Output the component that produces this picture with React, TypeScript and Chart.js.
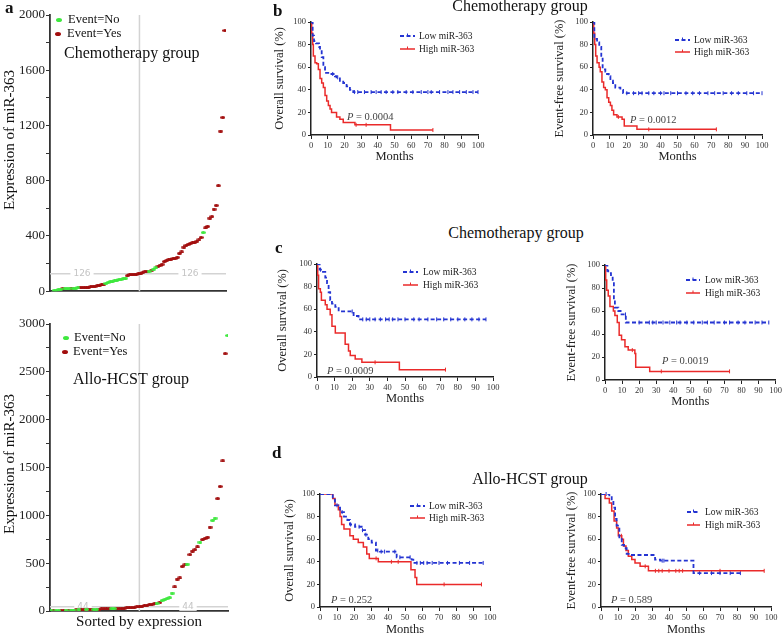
import React, { useEffect, useRef } from 'react';
import { Chart, registerables } from 'chart.js';
Chart.register(...registerables);

const SERIF = "'Liberation Serif', 'Times New Roman', serif";
const BLUE = '#2434d2';
const RED = '#ea2a2a';
const GREEN = '#3ee83e';
const DARKRED = '#a20d0d';

// ---------- panel a: expression sorted ----------
const chemoExpression = [
  5, 8, 11, 14, 16, 18, 19, 20, 21, 22,
  23, 24, 25, 26, 27, 28, 29, 31, 34, 37,
  40, 43, 46, 50, 58, 64, 68, 72, 76, 80,
  84, 88, 91, 95, 112, 118, 120, 122, 124, 125,
  126, 136, 140, 143, 146, 150, 160, 168, 180, 188,
  196, 215, 222, 228, 232, 236, 240, 246, 275, 284,
  320, 332, 340, 346, 350, 355, 362, 372, 390, 425,
  458, 470, 530, 540, 595, 622, 764, 1160, 1259, 1888,
];
const chemoEvent = [
  0, 0, 0, 0, 1, 0, 0, 0, 1, 0,
  0, 0, 1, 1, 1, 1, 1, 1, 1, 1,
  1, 1, 1, 1, 0, 0, 0, 0, 0, 0,
  0, 0, 0, 0, 1, 1, 1, 1, 1, 1,
  1, 1, 1, 1, 0, 1, 0, 0, 1, 1,
  1, 1, 1, 1, 1, 1, 1, 1, 1, 1,
  1, 1, 1, 1, 1, 1, 1, 1, 1, 0,
  1, 1, 1, 1, 1, 1, 1, 1, 1, 1,
];
const chemoCutoff = 126;
const chemoYTicks = [0, 400, 800, 1200, 1600, 2000];

const alloExpression = [
  1, 2, 2, 4, 5, 5, 7, 8, 9, 10,
  11, 12, 14, 15, 16, 16, 17, 18, 19, 19,
  21, 22, 23, 24, 24, 26, 27, 28, 29, 31,
  32, 34, 36, 39, 42, 44, 52, 57, 62, 67,
  72, 77, 82, 88, 111, 120, 130, 139, 188, 251,
  334, 345, 467, 482, 490, 589, 627, 641, 669, 721,
  746, 760, 772, 878, 948, 972, 1174, 1303, 1568, 2690,
  2880,
];
const alloEvent = [
  0, 1, 0, 0, 1, 1, 0, 1, 0, 0,
  1, 0, 1, 1, 0, 1, 1, 0, 0, 1,
  1, 1, 1, 1, 0, 0, 1, 1, 1, 1,
  1, 1, 1, 1, 1, 1, 1, 1, 1, 1,
  1, 1, 0, 1, 0, 0, 0, 0, 0, 1,
  1, 1, 1, 1, 0, 1, 1, 1, 1, 0,
  1, 1, 1, 1, 0, 0, 1, 1, 1, 1,
  0,
];
const alloCutoff = 44;
const alloYTicks = [0, 500, 1000, 1500, 2000, 2500, 3000];

// ---------- KM curves ----------
const bOsLowMonths = [0, 1, 1.8, 3, 4.8, 5.4, 6.4, 7.4, 8.4, 11, 14.3, 15.3, 17.3, 19.3, 21.3, 23.3, 25.3, 100];
const bOsLowSurv = [100, 88, 83, 81, 78, 75, 69, 60, 55, 54, 52, 51, 48, 46, 43, 40, 38, 38];
const bOsLowCensored = [13, 16, 26, 28, 32, 36, 39, 42, 45, 49, 52, 57, 61, 66, 70, 72, 77, 82, 85, 89, 93, 97, 100];
const bOsHighMonths = [0, 0.4, 1, 1.4, 2.4, 3.4, 4.4, 5.4, 6.4, 7.4, 8.4, 9.4, 10.4, 11.4, 12.3, 15.3, 17.3, 19.3, 26.3, 47.6, 73];
const bOsHighSurv = [100, 90, 80, 70, 64, 63, 58, 50, 46, 42, 35, 30, 26, 23, 20, 16, 14, 11, 9, 4.4, 4.4];
const bOsHighCensored = [27, 33, 73];

const bEfsLowMonths = [0, 0.8, 2.4, 3.7, 4.9, 5.7, 7.3, 8.3, 9.3, 10.3, 11.8, 13.2, 16.2, 17.8, 100];
const bEfsLowSurv = [100, 85, 82, 78, 70, 58, 56, 54, 52, 48, 46, 42, 40, 37, 37];
const bEfsLowCensored = [20, 24, 27, 29, 33, 36, 40, 42, 46, 50, 55, 59, 63, 68, 72, 77, 82, 86, 91, 95, 100];
const bEfsHighMonths = [0, 0.4, 1, 1.6, 2.4, 3.6, 4.3, 5.3, 6.3, 7.3, 8.3, 9.3, 10.3, 11.2, 12.2, 14.2, 17.2, 18.5, 26, 73];
const bEfsHighSurv = [100, 90, 80, 70, 64, 60, 56, 47, 42, 40, 33, 29, 26, 22, 18, 16, 14, 8, 5, 5];
const bEfsHighCensored = [15, 33, 73];

const cOsLowMonths = [0, 1.5, 2.8, 4.7, 5.7, 6.6, 7.5, 8.5, 10.4, 12.3, 20.8, 23.6, 24.5, 96];
const cOsLowSurv = [100, 95, 93, 88, 83, 75, 68, 65, 62, 58, 54, 52, 51, 51];
const cOsLowCensored = [2, 20, 26, 28, 30, 33, 36, 39, 41, 43, 46, 50, 55, 58, 63, 68, 72, 76, 80, 84, 88, 92, 96];
const cOsHighMonths = [0, 0.4, 0.9, 1.9, 2.5, 4.7, 5.7, 7.5, 8.5, 10.4, 16, 17.9, 18.9, 21.7, 25.5, 46.8, 73];
const cOsHighSurv = [100, 90, 78, 75, 68, 64, 60, 55, 45, 39, 29, 23, 19, 16, 13, 6.5, 6.5];
const cOsHighCensored = [33, 73];

const cEfsLowMonths = [0, 1.4, 1.9, 3.5, 4.5, 5.2, 5.8, 7.8, 9.7, 12.2, 96];
const cEfsLowSurv = [100, 95, 93, 90, 86, 70, 63, 60, 57, 50, 50];
const cEfsLowCensored = [12, 20, 26, 28, 30, 34, 38, 42, 44, 48, 52, 57, 60, 64, 70, 73, 78, 82, 88, 92, 96];
const cEfsHighMonths = [0, 0.4, 1, 1.9, 2.9, 4.9, 5.8, 7.2, 8.3, 9.7, 11.7, 13.6, 17.5, 18, 26.2, 73];
const cEfsHighSurv = [100, 87, 78, 73, 64, 60, 56, 50, 39, 35, 29, 26, 23, 11, 7.5, 7.5];
const cEfsHighCensored = [16, 33, 73];

const dOsLowMonths = [0, 7.5, 8.8, 10.8, 11.8, 14.1, 16.1, 17.6, 20.6, 24.5, 26.5, 28.4, 30.4, 32.9, 35.3, 45.1, 53.9, 54.9, 96];
const dOsLowSurv = [100, 95, 90, 88, 84, 80, 77, 73, 71, 68, 64, 60, 57, 50, 49, 44, 42, 39, 39];
const dOsLowCensored = [10, 13, 18, 23, 25, 27, 34, 36, 38, 44, 47, 53, 57, 59, 61, 63, 66, 70, 75, 82, 88, 96];
const dOsHighMonths = [0, 7.5, 8.8, 10.8, 11.8, 12.7, 14.1, 17.6, 19.6, 22.5, 25.5, 27.5, 29, 34.3, 53.5, 55.9, 56.9, 95];
const dOsHighSurv = [100, 96, 90, 86, 80, 73, 69, 63, 60, 57, 53, 47, 43, 40, 33, 26, 20, 20];
const dOsHighCensored = [33, 42, 46, 73, 95];

const dEfsLowMonths = [0, 4.9, 6.3, 7.3, 8.3, 9.2, 10.8, 12.2, 13.6, 15.1, 17.1, 31.8, 34.8, 54.4, 82];
const dEfsLowSurv = [100, 98, 94, 88, 78, 72, 60, 55, 52, 47, 46, 42, 41, 30, 30];
const dEfsLowCensored = [3, 16, 36, 37, 58, 65, 70, 76, 82];
const dEfsHighMonths = [0, 2.4, 4.9, 6.3, 7.7, 9.2, 10.2, 12.2, 13.2, 14.7, 16.1, 18.1, 20, 23, 27.9, 96];
const dEfsHighSurv = [100, 96, 92, 85, 76, 70, 63, 60, 54, 50, 45, 42, 39, 36, 32, 32];
const dEfsHighCensored = [12, 26, 32, 34, 36, 40, 44, 46, 48, 70, 96];

const pValues = ['0.0004', '0.0012', '0.0009', '0.0019', '0.252', '0.589'];
const legendLabels = ['Low miR-363', 'High miR-363'];

Chart.defaults.font.family = SERIF;

type Curve = { t: number[]; s: number[]; c: number[] };
const curve = (t: number[], s: number[], c: number[]): Curve => ({ t, s, c });

function survAt(cv: Curve, x: number) {
  let v = cv.s[0];
  for (let i = 0; i < cv.t.length; i++) if (cv.t[i] <= x) v = cv.s[i];
  return v;
}

type KMSpec = {
  L: number; T: number; R: number; B: number;
  yTitle: string; yPad: number; mPad: number;
  low: Curve; high: Curve;
  leg: { x1: number; x2: number; tx: number; y1: number; y2: number };
  p: { x: number; y: number; text: string };
};

function KMChart({ spec }: { spec: KMSpec }) {
  const ref = useRef<HTMLCanvasElement>(null);
  const padR = Math.min(12, 784 - spec.R);
  const left = spec.L - 50;
  const top = spec.T - 10;
  const width = spec.R - spec.L + 50 + padR;
  const height = spec.B - spec.T + 10 + 34;
  useEffect(() => {
    const el = ref.current!;
    const line = (cv: Curve) => cv.t.map((t, i) => ({ x: t, y: cv.s[i] }));
    const cens = (cv: Curve) => cv.c.map((x) => ({ x, y: survAt(cv, x) }));
    const annot = {
      id: 'kmAnnot',
      afterDraw(chart: any) {
        const c = chart.ctx as CanvasRenderingContext2D;
        const { leg, p } = spec;
        c.save();
        const row = (y: number, color: string, dashed: boolean) => {
          c.strokeStyle = color;
          c.lineWidth = dashed ? 1.8 : 1.5;
          c.setLineDash(dashed ? [4, 2.5] : []);
          c.beginPath();
          c.moveTo(leg.x1 - left, y - top);
          c.lineTo(leg.x2 - left, y - top);
          c.stroke();
          c.setLineDash([]);
          c.lineWidth = 1;
          const mx = (leg.x1 + leg.x2) / 2 - left;
          c.beginPath();
          c.moveTo(mx, y - top - 2.5);
          c.lineTo(mx, y - top);
          c.stroke();
        };
        row(leg.y1, BLUE, true);
        row(leg.y2, RED, false);
        c.fillStyle = '#222';
        c.font = `9.5px ${SERIF}`;
        c.textAlign = 'left';
        c.textBaseline = 'middle';
        c.fillText(legendLabels[0], leg.tx - left, leg.y1 - top);
        c.fillText(legendLabels[1], leg.tx - left, leg.y2 - top);
        c.fillStyle = '#444';
        c.font = `italic 10.5px ${SERIF}`;
        c.fillText('P', p.x - left, p.y - top);
        const w = c.measureText('P').width;
        c.font = `10.5px ${SERIF}`;
        c.fillText(' = ' + p.text, p.x - left + w, p.y - top);
        c.restore();
      },
    };
    const tickFont = { size: 8.5, family: SERIF };
    const chart = new Chart(el, {
      type: 'line',
      data: {
        datasets: [
          { data: line(spec.low), borderColor: BLUE, borderWidth: 1.8, borderDash: [4, 2.5], stepped: 'before', pointRadius: 0, fill: false } as any,
          { data: line(spec.high), borderColor: RED, borderWidth: 1.5, stepped: 'before', pointRadius: 0, fill: false } as any,
          { type: 'scatter', data: cens(spec.low), showLine: false, pointStyle: 'line', rotation: 90, pointRadius: 2, borderColor: BLUE, borderWidth: 1, clip: false } as any,
          { type: 'scatter', data: cens(spec.high), showLine: false, pointStyle: 'line', rotation: 90, pointRadius: 2, borderColor: RED, borderWidth: 1, clip: false } as any,
        ],
      },
      options: {
        animation: false,
        responsive: false,
        maintainAspectRatio: false,
        events: [],
        layout: { padding: { left: 0, top: 10, right: padR, bottom: 0 } },
        plugins: { legend: { display: false }, tooltip: { enabled: false } },
        scales: {
          x: {
            type: 'linear', min: 0, max: 100,
            ticks: { stepSize: 10, font: tickFont, color: '#333', padding: 2, maxRotation: 0, autoSkip: false },
            grid: { drawOnChartArea: false, tickLength: 4, color: '#222', lineWidth: 1 },
            border: { color: '#222', width: 1.5 },
            title: { display: true, text: 'Months', font: { size: 12.5, family: SERIF }, color: '#222', padding: { top: 0, bottom: spec.mPad } },
            afterFit: (s: any) => { s.height = 34; },
          },
          y: {
            type: 'linear', min: 0, max: 100,
            ticks: { stepSize: 20, font: tickFont, color: '#333', padding: 2 },
            grid: { drawOnChartArea: false, tickLength: 3, color: '#222', lineWidth: 1 },
            border: { color: '#222', width: 1.5 },
            title: { display: true, text: spec.yTitle, font: { size: 12.5, family: SERIF }, color: '#222', padding: { top: spec.yPad, bottom: 0 } },
            afterFit: (s: any) => { s.width = 50; },
          },
        },
      } as any,
      plugins: [annot],
    });
    return () => chart.destroy();
  }, []);
  return <canvas ref={ref} width={width} height={height} style={{ position: 'absolute', left, top, width, height }} />;
}

type ScSpec = {
  left: number; top: number; width: number; height: number;
  pad: { left: number; top: number; right: number; bottom: number };
  xHeight: number; xTitle: string;
  values: number[]; events: number[]; cutoff: number; yMax: number; yStep: number; yLabels: number[];
  xMin: number; xMax: number;
  cutLabelX: number[];
  legend: { dx: number; tx: number; y1: number; y2: number };
  title: { text: string; x: number; y: number };
  yTitle: { x: number; y: number };
};

function makeDot(color: string, w: number, h: number) {
  const cv = document.createElement('canvas');
  cv.width = w; cv.height = h;
  const g = cv.getContext('2d')!;
  g.fillStyle = color;
  g.beginPath();
  g.ellipse(w / 2, h / 2, w / 2, h / 2, 0, 0, Math.PI * 2);
  g.fill();
  return cv;
}

function ScatterChart({ spec }: { spec: ScSpec }) {
  const ref = useRef<HTMLCanvasElement>(null);
  const { left, top, width, height } = spec;
  useEffect(() => {
    const el = ref.current!;
    const n = spec.values.length;
    const medIdx = (n + 1) / 2;
    const pts = (ev: number) => spec.values.map((v, i) => ({ x: i + 1, y: v, e: spec.events[i] })).filter((d) => d.e === ev).map((d) => ({ x: d.x, y: d.y }));
    const greenDot = makeDot(GREEN, 5, 3);
    const redDot = makeDot(DARKRED, 5, 3);
    const annot = {
      id: 'scAnnot',
      beforeDatasetsDraw(chart: any) {
        const c = chart.ctx as CanvasRenderingContext2D;
        const a = chart.chartArea;
        const vx = chart.scales.x.getPixelForValue(medIdx);
        const hy = chart.scales.y.getPixelForValue(spec.cutoff);
        c.save();
        c.strokeStyle = '#d3d3d3';
        c.lineWidth = 1.5;
        c.beginPath();
        c.moveTo(vx, a.top);
        c.lineTo(vx, a.bottom);
        c.moveTo(a.left, hy);
        c.lineTo(a.right, hy);
        c.stroke();
        c.font = `9px 'DejaVu Sans', sans-serif`;
        c.textAlign = 'center';
        c.textBaseline = 'middle';
        for (const lx of spec.cutLabelX) {
          const s = String(spec.cutoff);
          const w = c.measureText(s).width + 6;
          c.fillStyle = '#fff';
          c.fillRect(lx - left - w / 2, hy - 4, w, 8);
          c.fillStyle = '#c4c4c4';
          c.fillText(s, lx - left, hy);
        }
        c.restore();
      },
      afterDraw(chart: any) {
        const c = chart.ctx as CanvasRenderingContext2D;
        const L = spec.legend;
        c.save();
        c.fillStyle = GREEN;
        c.beginPath(); c.ellipse(L.dx - left, L.y1 - top, 3, 2, 0, 0, Math.PI * 2); c.fill();
        c.fillStyle = DARKRED;
        c.beginPath(); c.ellipse(L.dx - 1 - left, L.y2 - top, 3, 2, 0, 0, Math.PI * 2); c.fill();
        c.fillStyle = '#111';
        c.font = `12.5px ${SERIF}`;
        c.textAlign = 'left';
        c.textBaseline = 'middle';
        c.fillText('Event=No', L.tx - left, L.y1 - top);
        c.fillText('Event=Yes', L.tx - 1 - left, L.y2 - top);
        c.font = `16px ${SERIF}`;
        c.fillText(spec.title.text, spec.title.x - left, spec.title.y - top);
        c.translate(spec.yTitle.x - left, spec.yTitle.y - top);
        c.rotate(-Math.PI / 2);
        c.textAlign = 'center';
        c.font = `15px ${SERIF}`;
        c.fillText('Expression of miR-363', 0, 0);
        c.restore();
      },
    };
    const chart = new Chart(el, {
      type: 'scatter',
      data: {
        datasets: [
          { data: pts(0), pointStyle: greenDot, pointRadius: 3 } as any,
          { data: pts(1), pointStyle: redDot, pointRadius: 3 } as any,
        ],
      },
      options: {
        animation: false,
        responsive: false,
        maintainAspectRatio: false,
        events: [],
        layout: { padding: spec.pad },
        plugins: { legend: { display: false }, tooltip: { enabled: false } },
        scales: {
          x: {
            type: 'linear', min: spec.xMin, max: spec.xMax,
            ticks: { display: false },
            grid: { display: false },
            border: { color: '#333', width: 1.8 },
            title: { display: !!spec.xTitle, text: spec.xTitle, font: { size: 15, family: SERIF }, color: '#111', padding: { top: 0, bottom: 0 } },
            afterFit: (s: any) => { s.height = spec.xHeight; },
          },
          y: {
            type: 'linear', min: 0, max: spec.yMax,
            ticks: {
              stepSize: spec.yStep, font: { size: 13, family: SERIF }, color: '#222', padding: 1,
              callback: (v: any) => (spec.yLabels.includes(Number(v)) ? String(v) : ''),
            },
            grid: { drawOnChartArea: false, tickLength: 4, color: '#333', lineWidth: 1 },
            border: { color: '#333', width: 1.8 },
            afterFit: (s: any) => { s.width = 50; },
          },
        },
      } as any,
      plugins: [annot],
    });
    return () => chart.destroy();
  }, []);
  return <canvas ref={ref} width={width} height={height} style={{ position: 'absolute', left, top, width, height }} />;
}

const txt = (s: string, x: number, y: number, size: number, bold = false, w?: number): React.ReactElement => (
  <div
    style={{
      position: 'absolute', left: x, top: y, width: w, textAlign: w ? 'center' : 'left',
      fontFamily: SERIF, fontSize: size, lineHeight: '20px', fontWeight: bold ? 'bold' : 'normal',
      color: '#111', whiteSpace: 'nowrap',
    }}
  >
    {s}
  </div>
);

export default function App() {
  const kmSpecs: KMSpec[] = [
    { L: 311, T: 22, R: 478, B: 135, yTitle: 'Overall survival (%)', yPad: 11.5, mPad: 4.5,
      low: curve(bOsLowMonths, bOsLowSurv, bOsLowCensored), high: curve(bOsHighMonths, bOsHighSurv, bOsHighCensored),
      leg: { x1: 400, x2: 415, tx: 419, y1: 36, y2: 49 }, p: { x: 347, y: 117, text: pValues[0] } },
    { L: 593, T: 22, R: 762, B: 135, yTitle: 'Event-free survival (%)', yPad: 9.5, mPad: 4.5,
      low: curve(bEfsLowMonths, bEfsLowSurv, bEfsLowCensored), high: curve(bEfsHighMonths, bEfsHighSurv, bEfsHighCensored),
      leg: { x1: 675, x2: 690, tx: 694, y1: 40, y2: 52 }, p: { x: 630, y: 120, text: pValues[1] } },
    { L: 317, T: 264, R: 493, B: 377, yTitle: 'Overall survival (%)', yPad: 8.5, mPad: 4.5,
      low: curve(cOsLowMonths, cOsLowSurv, cOsLowCensored), high: curve(cOsHighMonths, cOsHighSurv, cOsHighCensored),
      leg: { x1: 403, x2: 418, tx: 423, y1: 272, y2: 285 }, p: { x: 327, y: 371, text: pValues[2] } },
    { L: 605, T: 265, R: 777, B: 380, yTitle: 'Event-free survival (%)', yPad: 9.5, mPad: 4.5,
      low: curve(cEfsLowMonths, cEfsLowSurv, cEfsLowCensored), high: curve(cEfsHighMonths, cEfsHighSurv, cEfsHighCensored),
      leg: { x1: 686, x2: 700, tx: 705, y1: 280, y2: 293 }, p: { x: 662, y: 361, text: pValues[3] } },
    { L: 320, T: 494, R: 490, B: 607, yTitle: 'Overall survival (%)', yPad: 12.5, mPad: 3.5,
      low: curve(dOsLowMonths, dOsLowSurv, dOsLowCensored), high: curve(dOsHighMonths, dOsHighSurv, dOsHighCensored),
      leg: { x1: 410, x2: 425, tx: 429, y1: 506, y2: 518 }, p: { x: 331, y: 600, text: pValues[4] } },
    { L: 601, T: 494, R: 771, B: 607, yTitle: 'Event-free survival (%)', yPad: 13.5, mPad: 3.5,
      low: curve(dEfsLowMonths, dEfsLowSurv, dEfsLowCensored), high: curve(dEfsHighMonths, dEfsHighSurv, dEfsHighCensored),
      leg: { x1: 687, x2: 700, tx: 705, y1: 512, y2: 525 }, p: { x: 611, y: 600, text: pValues[5] } },
  ];
  const topSc: ScSpec = {
    left: 0, top: 0, width: 240, height: 300,
    pad: { left: 0, top: 15, right: 14, bottom: 3 }, xHeight: 0, xTitle: '',
    values: chemoExpression, events: chemoEvent, cutoff: chemoCutoff, yMax: 2000, yStep: 200, yLabels: chemoYTicks,
    xMin: -0.85, xMax: 80.5, cutLabelX: [82, 190],
    legend: { dx: 59, tx: 68, y1: 20, y2: 34 },
    title: { text: 'Chemotherapy group', x: 64, y: 54 },
    yTitle: { x: 10, y: 140 },
  };
  const botSc: ScSpec = {
    left: 0, top: 300, width: 240, height: 334,
    pad: { left: 0, top: 24, right: 12, bottom: 3 }, xHeight: 20, xTitle: 'Sorted by expression',
    values: alloExpression, events: alloEvent, cutoff: alloCutoff, yMax: 3000, yStep: 250, yLabels: alloYTicks,
    xMin: 0.6, xMax: 71.1, cutLabelX: [83, 188],
    legend: { dx: 66, tx: 74, y1: 338, y2: 352 },
    title: { text: 'Allo-HCST group', x: 73, y: 380 },
    yTitle: { x: 10, y: 464 },
  };
  return (
    <div style={{ position: 'absolute', left: 0, top: 0, width: 784, height: 634, overflow: 'hidden', background: '#fff' }}>
      <ScatterChart spec={topSc} />
      <ScatterChart spec={botSc} />
      {kmSpecs.map((s, i) => <KMChart key={i} spec={s} />)}
      {txt('a', 5, -2.4, 17, true)}
      {txt('b', 273, 0.9, 17, true)}
      {txt('c', 275, 237.6, 17, true)}
      {txt('d', 272, 442.6, 17, true)}
      {txt('Chemotherapy group', 420, -3.7, 16, false, 200)}
      {txt('Chemotherapy group', 416, 222.9, 16, false, 200)}
      {txt('Allo-HCST group', 430, 468.6, 16, false, 200)}
    </div>
  );
}
